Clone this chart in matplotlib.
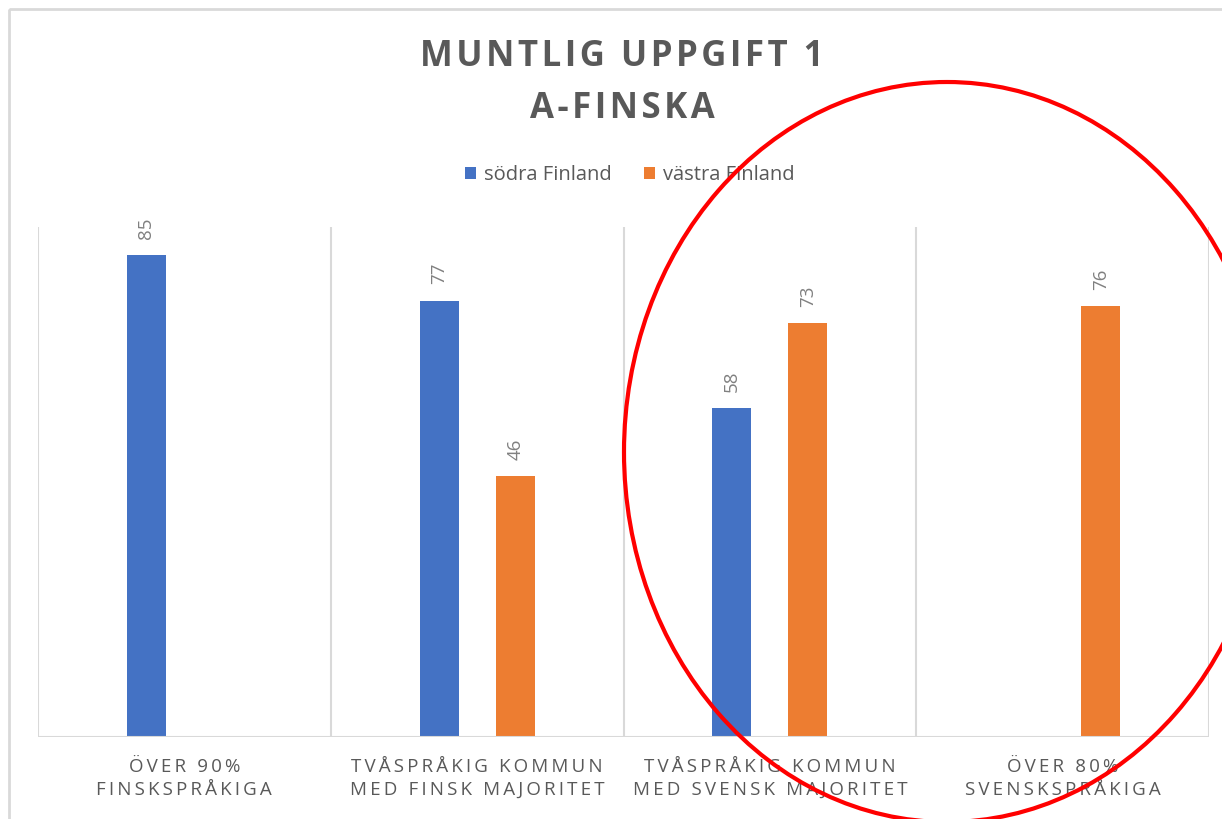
import matplotlib
matplotlib.use("Agg")
import matplotlib.pyplot as plt
from matplotlib.patches import Ellipse, Rectangle
import numpy as np

# data
categories = ["ÖVER 90%\nFINSKSPRÅKIGA",
              "TVÅSPRÅKIG KOMMUN\nMED FINSK MAJORITET",
              "TVÅSPRÅKIG KOMMUN\nMED SVENSK MAJORITET",
              "ÖVER 80%\nSVENSKSPRÅKIGA"]
sodra = [85, 77, 58, np.nan]
vastra = [np.nan, 46, 73, 76]
series_names = ["södra Finland", "västra Finland"]
title_lines = ["MUNTLIG UPPGIFT 1", "A-FINSKA"]

BLUE = "#4472C4"
ORANGE = "#ED7D31"
GRID = "#D9D9D9"
DARK = "#595959"
LABEL = "#808080"

plt.rcParams['font.family'] = ['Open Sans', 'DejaVu Sans']


def spaced(s, gap="\u200a"):
    # Excel-style letter spacing
    return "\n".join(gap.join(ch for ch in line) for line in s.split("\n"))


fig = plt.figure(figsize=(12.22, 8.19), dpi=100)
W, H = 1222, 819
ax = fig.add_axes([38 / W, 1 - 737 / H, (1209 - 38) / W, (737 - 227) / H])

x = np.arange(len(categories))
bw = 0.133
off = 0.13
b1 = ax.bar(x - off, sodra, bw, color=BLUE, label=series_names[0], zorder=3)
b2 = ax.bar(x + off, vastra, bw, color=ORANGE, label=series_names[1], zorder=3)

for bars, vals in ((b1, sodra), (b2, vastra)):
    labs = ["" if np.isnan(v) else f"{v:.0f}" for v in vals]
    ax.bar_label(bars, labels=labs, padding=12, rotation=90,
                 color=LABEL, fontsize=13.5)

ax.set_xlim(-0.5, len(categories) - 0.5)
ax.set_ylim(0, 90)
for b in np.arange(-0.5, len(categories), 1.0):
    ax.axvline(b, color=GRID, lw=1.5, zorder=1)
for s in ax.spines.values():
    s.set_visible(False)
ax.axhline(0, color=GRID, lw=1.5, zorder=4)
ax.set_yticks([])
ax.set_xticks(x)
ax.set_xticklabels([spaced(c, "\u2009") for c in categories], color=DARK,
                   fontsize=13.5, linespacing=1.35)
ax.tick_params(axis='x', length=0, pad=15)

# title
fig.text(622 / W, 1 - 57 / H, spaced(title_lines[0]), ha='center', va='center',
         fontsize=25, fontweight='bold', color=DARK)
fig.text(622 / W, 1 - 109 / H, spaced(title_lines[1]), ha='center', va='center',
         fontsize=25, fontweight='bold', color=DARK)

fig.legend(handles=[b1, b2], loc='center', bbox_to_anchor=(630 / W, 1 - 175 / H),
           ncol=2, frameon=False, fontsize=14.5, labelcolor=DARK,
           handlelength=0.55, handleheight=0.55, handletextpad=0.4,
           columnspacing=1.6)

# overlay: chart border and red circle
ov = fig.add_axes([0, 0, 1, 1], zorder=10)
ov.set_xlim(0, W)
ov.set_ylim(H, 0)
ov.axis('off')
ov.patch.set_alpha(0)
ov.add_patch(Rectangle((9, 9), 1400, 1000, fill=False, ec=GRID, lw=2))
ov.add_patch(Ellipse((947, 452), 646, 740, fill=False, ec='#FF0000', lw=3))

fig.savefig("out.png", dpi=100)
